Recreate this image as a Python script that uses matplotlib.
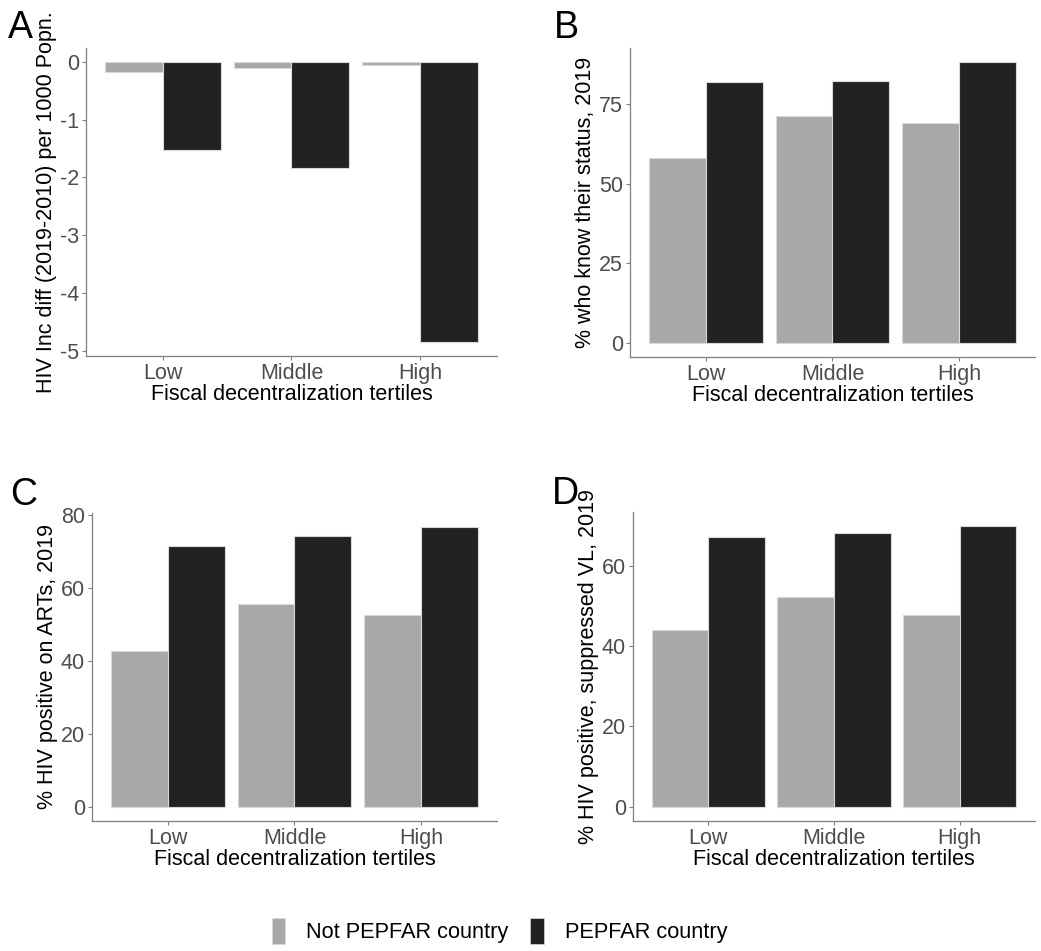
import matplotlib
matplotlib.use("Agg")
from matplotlib import pyplot as plt
from matplotlib.patches import Patch
import numpy as np

plt.rcParams["font.family"] = ["Liberation Sans", "DejaVu Sans"]
plt.rcParams["axes.unicode_minus"] = False

TERTILES = ["Low", "Middle", "High"]
GROUPS = ["Not PEPFAR country", "PEPFAR country"]
COLORS = ["#A8A8A8", "#222222"]

# per panel: (not PEPFAR, PEPFAR) values for Low / Middle / High
inc_not = [-0.18, -0.10, -0.05]
inc_pep = [-1.53, -1.84, -4.85]
know_not = [58.0, 71.2, 68.9]
know_pep = [81.8, 82.3, 88.1]
art_not = [42.8, 55.6, 52.5]
art_pep = [71.3, 74.0, 76.6]
vl_not = [43.9, 52.1, 47.8]
vl_pep = [67.0, 68.1, 69.8]

PANELS = [
    ("A", "HIV Inc diff (2019-2010) per 1000 Popn.", inc_not, inc_pep, [0, -1, -2, -3, -4, -5]),
    ("B", "% who know their status, 2019", know_not, know_pep, [0, 25, 50, 75]),
    ("C", "% HIV positive on ARTs, 2019", art_not, art_pep, [0, 20, 40, 60, 80]),
    ("D", "% HIV positive, suppressed VL, 2019", vl_not, vl_pep, [0, 20, 40, 60]),
]
# axes rectangles in figure fraction (left, bottom, width, height)
RECTS = [
    (0.0826, 0.6257, 0.3948, 0.3238),
    (0.6052, 0.6246, 0.3890, 0.3249),
    (0.0884, 0.1367, 0.3890, 0.3239),
    (0.6081, 0.1367, 0.3861, 0.3249),
]
LETTER_POS = [(0.008, 0.990), (0.532, 0.990), (0.010, 0.498), (0.530, 0.500)]

fig = plt.figure(figsize=(10.41, 9.51), dpi=100)
x = np.arange(1, 4)
w = 0.45
axis_grey = "#7F7F7F"
tick_grey = "#4D4D4D"
FS = 15.5

for (letter, ylab, v_not, v_pep, yticks), rect, lpos in zip(PANELS, RECTS, LETTER_POS):
    ax = fig.add_axes(rect)
    for vals, off, col in [(v_not, -w / 2, COLORS[0]), (v_pep, w / 2, COLORS[1])]:
        ax.bar(x + off, vals, width=w, color=col, edgecolor="#D9D9D9", linewidth=0.8)
    allv = np.array(v_not + v_pep + [0])
    lo, hi = allv.min(), allv.max()
    pad = (hi - lo) * 0.05
    ax.set_ylim(lo - pad, hi + pad)
    ax.set_xlim(0.4, 3.6)
    ax.set_xticks(x, TERTILES)
    ax.set_yticks(yticks)
    ax.tick_params(colors=axis_grey, labelcolor=tick_grey, labelsize=FS, length=3, width=0.8, pad=2)
    for s in ["top", "right"]:
        ax.spines[s].set_visible(False)
    for s in ["left", "bottom"]:
        ax.spines[s].set_color(axis_grey)
        ax.spines[s].set_linewidth(0.9)
    ax.set_xlabel("Fiscal decentralization tertiles", fontsize=FS, labelpad=0)
    ax.set_ylabel(ylab, fontsize=FS, labelpad=2)
    fig.text(lpos[0], lpos[1], letter, fontsize=27, va="top", ha="left")

handles = [Patch(facecolor=c, edgecolor="#D9D9D9", linewidth=0.5) for c in COLORS]
fig.legend(handles, GROUPS, loc="center", bbox_to_anchor=(0.48, 0.021), ncol=2,
           frameon=False, fontsize=15.7, handlelength=0.6, handleheight=1.4,
           handletextpad=1.0, columnspacing=1.0)

fig.savefig("out.png", dpi=100)
